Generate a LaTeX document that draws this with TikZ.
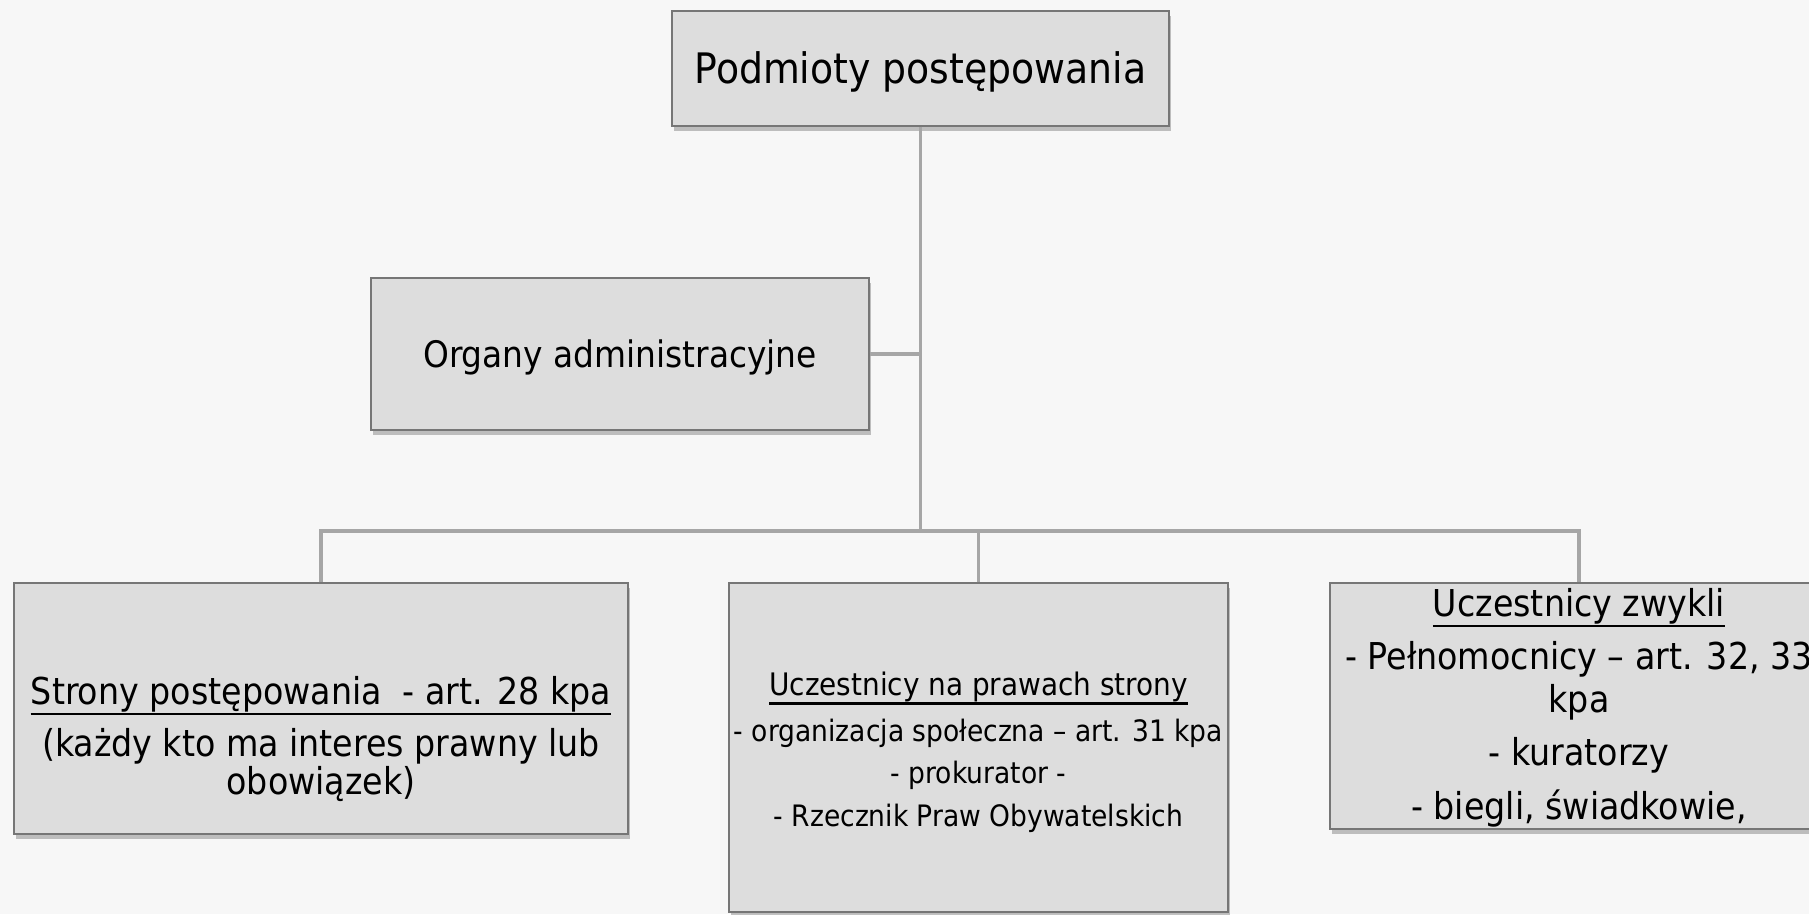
\documentclass[tikz,border=0pt]{standalone}
\usepackage{fontspec}
\setmainfont{DejaVu Sans Condensed}
\usetikzlibrary{shadows}
\definecolor{bg}{HTML}{F7F7F7}
\definecolor{boxfill}{HTML}{DDDDDD}
\definecolor{boxline}{HTML}{767676}
\definecolor{conncol}{HTML}{A6A6A6}
\tikzset{
  box/.style={draw=boxline, line width=1.2pt, fill=boxfill, inner sep=0pt,
    drop shadow={shadow xshift=2pt, shadow yshift=-5pt, opacity=0.4, fill=black!60}},
  conn/.style={draw=conncol, line width=3.5pt},
  txt/.style={anchor=base, inner sep=0pt, text=black},
  big/.style={font=\fontsize{37}{44}\selectfont},
  small/.style={font=\fontsize{29.5}{36}\selectfont},
  uline/.style={draw=black, line width=2.2pt},
}
\begin{document}
\begin{tikzpicture}[x=1pt,y=-1pt]
\useasboundingbox (0,0) rectangle (1809,914);
\fill[bg] (0,0) rectangle (1809,914);
\clip (0,0) rectangle (1809,914);
\coordinate (bus) at (920.5,531);
\node[box, minimum width=497pt, minimum height=115pt] (top) at (920.5,68.5) {};
\node[box, minimum width=498pt, minimum height=152pt] (org) at (620,354) {};
\node[box, minimum width=614pt, minimum height=251pt] (left) at (321,708.5) {};
\node[box, minimum width=499pt, minimum height=329pt] (mid) at (978.5,747.5) {};
\node[box, minimum width=498pt, minimum height=246pt] (right) at (1579,706) {};
\draw[conn] (top.south) -- (bus);
\draw[conn] (org.east) -- (org.east -| bus);
\draw[conn] (left.north) |- (right.north |- bus) -- (right.north);
\draw[conn] (mid.north) -- (mid.north |- bus);
% texts
\node[txt, font=\fontsize{42}{50}\selectfont] (t1) at (920.5,83) {Podmioty postępowania};
\node[txt, font=\fontsize{36.5}{44}\selectfont] (t2) at (620,367) {Organy administracyjne};
\node[txt, big] (l1) at (321,704) {Strony postępowania\ \ - art. 28 kpa};
\node[txt, big] (l2) at (321,756) {(każdy kto ma interes prawny lub};
\node[txt, big] (l3) at (321,794) {obowiązek)};
\node[txt, font=\fontsize{31}{36}\selectfont] (m1) at (978.5,695) {Uczestnicy na prawach strony};
\node[txt, small] (m2) at (978.5,741) {- organizacja społeczna – art. 31 kpa};
\node[txt, small] (m3) at (978.5,783) {- prokurator -};
\node[txt, small] (m4) at (978.5,826) {- Rzecznik Praw Obywatelskich};
\node[txt, big] (r1) at (1579,616) {Uczestnicy zwykli};
\node[txt, big] (r2) at (1579,669) {- Pełnomocnicy – art. 32, 33};
\node[txt, big] (r3) at (1579,712) {kpa};
\node[txt, big] (r4) at (1579,765) {- kuratorzy};
\node[txt, big] (r5) at (1579,819) {- biegli, świadkowie,};
% underlines
\draw[uline] ([yshift=-10pt]l1.base west) -- ([yshift=-10pt]l1.base east);
\draw[uline] ([yshift=-8.5pt]m1.base west) -- ([yshift=-8.5pt]m1.base east);
\draw[uline] ([yshift=-10pt]r1.base west) -- ([yshift=-10pt]r1.base east);
\end{tikzpicture}
\end{document}
